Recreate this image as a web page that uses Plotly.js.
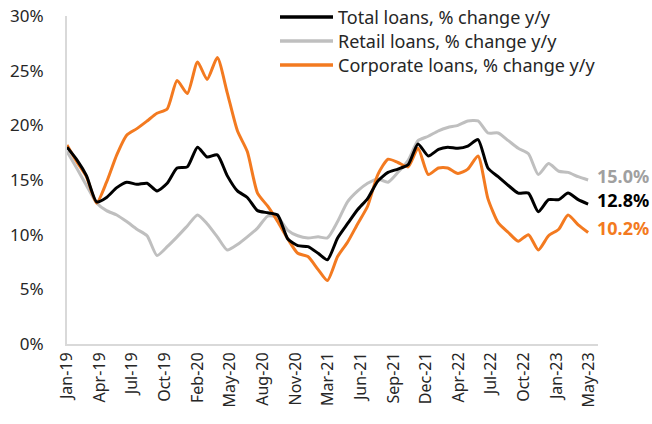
<!DOCTYPE html>
<html>
<head>
<meta charset="utf-8">
<script src="https://cdn.plot.ly/plotly-3.0.1.min.js"></script>
<style>
  html, body { margin: 0; padding: 0; background: #ffffff; }
  #chart { width: 652px; height: 424px; }
</style>
</head>
<body>
<div id="chart"></div>
<script>
const months = [
  '2019-01-01','2019-02-01','2019-03-01','2019-04-01','2019-05-01','2019-06-01','2019-07-01','2019-08-01','2019-09-01','2019-10-01','2019-11-01','2019-12-01',
  '2020-01-01','2020-02-01','2020-03-01','2020-04-01','2020-05-01','2020-06-01','2020-07-01','2020-08-01','2020-09-01','2020-10-01','2020-11-01','2020-12-01',
  '2021-01-01','2021-02-01','2021-03-01','2021-04-01','2021-05-01','2021-06-01','2021-07-01','2021-08-01','2021-09-01','2021-10-01','2021-11-01','2021-12-01',
  '2022-01-01','2022-02-01','2022-03-01','2022-04-01','2022-05-01','2022-06-01','2022-07-01','2022-08-01','2022-09-01','2022-10-01','2022-11-01','2022-12-01',
  '2023-01-01','2023-02-01','2023-03-01','2023-04-01','2023-05-01'
];

const totalLoans = [
  18.0, 16.8, 15.4, 13.0, 13.4, 14.3, 14.8, 14.6, 14.7, 14.0, 14.7, 16.1,
  16.2, 18.0, 17.1, 17.3, 15.4, 14.0, 13.4, 12.2, 12.0, 11.8, 9.6, 9.0,
  8.9, 8.3, 7.7, 9.7, 11.0, 12.3, 13.3, 14.9, 15.7, 16.0, 16.4, 18.3,
  17.2, 17.8, 18.0, 17.9, 18.1, 18.7, 16.1, 15.3, 14.5, 13.8, 13.8, 12.1,
  13.2, 13.2, 13.8, 13.2, 12.8
];

const retailLoans = [
  17.6, 16.0, 14.5, 12.9, 12.2, 11.8, 11.2, 10.5, 9.9, 8.1, 8.9, 9.8,
  10.8, 11.8, 11.0, 9.8, 8.6, 9.1, 9.8, 10.6, 11.7, 11.6, 10.4, 9.9,
  9.7, 9.8, 9.7, 11.2, 13.0, 14.0, 14.7, 15.1, 14.8, 15.7, 16.8, 18.6,
  19.0, 19.5, 19.8, 20.0, 20.4, 20.4, 19.3, 19.3, 18.6, 17.9, 17.4, 15.5,
  16.5, 15.8, 15.7, 15.3, 15.0
];

const corporateLoans = [
  18.2, 16.6, 15.3, 12.9, 14.8, 17.3, 19.1, 19.7, 20.4, 21.1, 21.5, 24.1,
  22.9, 25.8, 24.2, 26.2, 23.0, 19.5, 17.6, 13.8, 12.6, 11.2, 9.6, 8.3,
  8.0, 6.8, 5.8, 8.0, 9.3, 11.0, 12.6, 15.5, 16.9, 16.6, 16.2, 17.9,
  15.5, 16.1, 16.1, 15.6, 16.0, 17.2, 13.3, 11.1, 10.2, 9.4, 10.0, 8.6,
  9.9, 10.5, 11.8, 10.9, 10.2
];

const seriesNames = ['Total loans, % change y/y', 'Retail loans, % change y/y', 'Corporate loans, % change y/y'];

const tickDates = ['2019-01-01','2019-04-10','2019-07-18','2019-10-25','2020-02-01','2020-05-10','2020-08-17','2020-11-24',
  '2021-03-03','2021-06-10','2021-09-17','2021-12-25','2022-04-03','2022-07-11','2022-10-18','2023-01-25','2023-05-04'];
const tickLabels = ['Jan-19','Apr-19','Jul-19','Oct-19','Feb-20','May-20','Aug-20','Nov-20',
  'Mar-21','Jun-21','Sep-21','Dec-21','Apr-22','Jul-22','Oct-22','Jan-23','May-23'];

const yTickVals = [0, 5, 10, 15, 20, 25, 30];

const colors = ['#000000', '#BFBFBF', '#F37A20'];
const labelColors = ['#000000', '#A0A0A0', '#F37A20'];
const FONT = 'Noto Sans, sans-serif';

const allSeries = [totalLoans, retailLoans, corporateLoans];
const order = [1, 2, 0];

const traces = order.map(k => ({
  x: months,
  y: allSeries[k],
  name: seriesNames[k],
  type: 'scatter',
  mode: 'lines',
  line: { color: colors[k], width: 3, shape: 'spline', smoothing: 0.6 },
  hoverinfo: 'skip',
  showlegend: false
}));

// End-of-line value labels
const lastIdx = months.length - 1;
const annotations = allSeries.map((s, k) => ({
  x: months[lastIdx],
  y: s[lastIdx],
  xref: 'x', yref: 'y',
  text: '<b>' + s[lastIdx].toFixed(1) + '%</b>',
  showarrow: false,
  xanchor: 'left', yanchor: 'middle',
  xshift: 7, yshift: 4,
  font: { family: FONT, size: 18, color: labelColors[k] }
}));

// Custom legend (top, inside plot area)
const plotL = 67, plotR = 598, plotT = 16, plotB = 344;
const px2x = p => (p - plotL) / (plotR - plotL);
const px2y = p => (plotB - p) / (plotB - plotT);
const legendRows = [17, 41, 65];
const shapes = [];
seriesNames.forEach((nm, k) => {
  shapes.push({
    type: 'line', xref: 'paper', yref: 'paper',
    x0: px2x(280), x1: px2x(333), y0: px2y(legendRows[k]), y1: px2y(legendRows[k]),
    line: { color: colors[k], width: 3.5 }
  });
  annotations.push({
    xref: 'paper', yref: 'paper',
    x: px2x(336), y: px2y(legendRows[k]),
    xanchor: 'left', yanchor: 'middle',
    text: nm, showarrow: false,
    font: { family: FONT, size: 18, color: '#262626' }
  });
});

const layout = {
  width: 652, height: 424,
  margin: { l: plotL, r: 652 - plotR, t: plotT, b: 424 - plotB },
  paper_bgcolor: '#ffffff', plot_bgcolor: '#ffffff',
  showlegend: false,
  hovermode: false,
  font: { family: FONT, color: '#262626' },
  xaxis: {
    type: 'date',
    range: ['2019-01-01', '2023-05-31'],
    tickmode: 'array',
    tickvals: tickDates,
    ticktext: tickLabels,
    tickangle: -90,
    tickfont: { family: FONT, size: 16, color: '#262626' },
    showgrid: false, zeroline: false,
    showline: true, linecolor: '#D9D9D9', linewidth: 2,
    ticks: '', ticklen: 0
  },
  yaxis: {
    range: [0, 30],
    tickmode: 'array',
    tickvals: yTickVals,
    ticktext: yTickVals.map(v => v + '%'),
    tickfont: { family: FONT, size: 17, color: '#262626' },
    showgrid: false, zeroline: false,
    showline: true, linecolor: '#D9D9D9', linewidth: 2,
    ticks: 'outside', ticklen: 18, tickcolor: 'rgba(0,0,0,0)'
  },
  shapes: shapes,
  annotations: annotations
};

Plotly.newPlot('chart', traces, layout, { displayModeBar: false, staticPlot: true });
</script>
</body>
</html>
